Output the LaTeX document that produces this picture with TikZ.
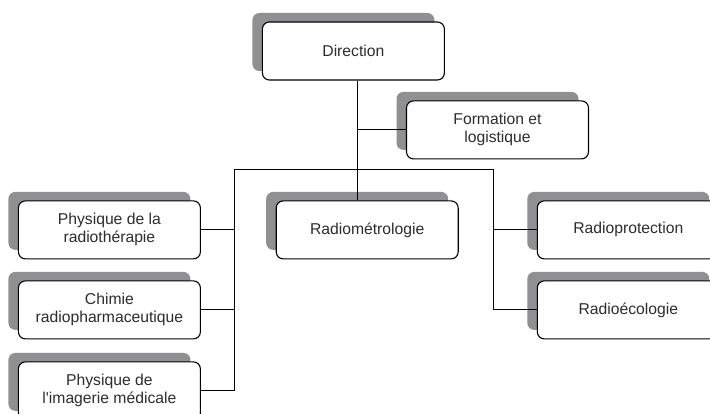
\documentclass[tikz,border=0pt]{standalone}
\usepackage{fontspec}
\setmainfont{Liberation Sans}
\usetikzlibrary{shadows}
\definecolor{shadowgray}{RGB}{143,143,148}
\definecolor{txtgray}{RGB}{45,45,45}
\tikzset{
  unit/.style={draw=black, line width=1.1pt, fill=white, rounded corners=7pt,
    minimum width=182pt, minimum height=58pt, inner sep=0pt,
    align=center, text=txtgray,
    font=\fontsize{15.7pt}{18pt}\selectfont,
    general shadow={fill=shadowgray, draw=none, shadow xshift=-10pt, shadow yshift=9pt}},
  link/.style={draw=black, line width=0.9pt}
}
\begin{document}
\begin{tikzpicture}[x=1pt,y=-1pt]
\useasboundingbox (0,0) rectangle (710,414);
\fill[white] (0,0) rectangle (710,414);
\coordinate (t) at (357,0);
\coordinate (bl) at (234.5,169.5);
\coordinate (br) at (493,169.5);
\node[unit] (dir) at (353.4,51) {Direction};
\node[unit] (form) at (497.5,129.9) {Formation et\\logistique};
\node[unit] (radiom) at (367.2,229.9) {Radiométrologie};
\node[unit] (phys) at (109.4,229.9) {Physique de la\\radiothérapie};
\node[unit] (chim) at (109.4,309.9) {Chimie\\radiopharmaceutique};
\node[unit] (imag) at (109.4,390.9) {Physique de\\l\textquotesingle imagerie médicale};
\node[unit] (rprot) at (628.3,229.9) {Radioprotection};
\node[unit] (reco) at (628.3,309.9) {Radioécologie};
\draw[link] (bl) -- (br);
\draw[link] (dir.south -| t) -- (radiom.north -| t);
\draw[link] (form.west) -- (form.west -| t);
\draw[link] (bl) |- (imag.east);
\draw[link] (phys.east) -- (phys.east -| bl);
\draw[link] (chim.east) -- (chim.east -| bl);
\draw[link] (br) |- (reco.west);
\draw[link] (rprot.west) -- (rprot.west -| br);
\end{tikzpicture}
\end{document}
